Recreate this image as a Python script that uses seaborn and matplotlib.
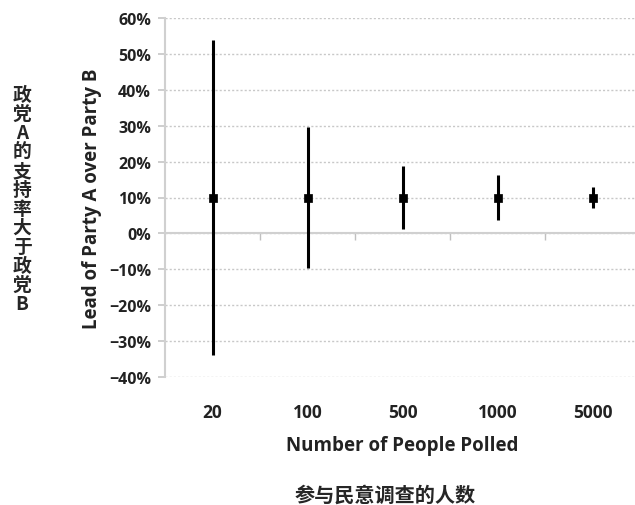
import numpy as np
import pandas as pd
import matplotlib
matplotlib.use('Agg')
import matplotlib.pyplot as plt
import seaborn as sns
from matplotlib.ticker import PercentFormatter

# poll sizes and the lead of party A (percent) with its margin of error
sizes = ['20', '100', '500', '1000', '5000']
lead = [10, 10, 10, 10, 10]
margin = [43.8, 19.6, 8.8, 6.2, 2.8]

sns.set_theme(style='white')
plt.rcParams['font.family'] = ['Open Sans', 'Noto Sans CJK SC', 'DejaVu Sans']

df = pd.DataFrame({'size': sizes, 'lead': lead, 'margin': margin})
df['pos'] = np.arange(len(df))

fig = plt.figure(figsize=(6.35, 5.06), dpi=100)
ax = fig.add_axes([165 / 635, 1 - 378 / 506, 475 / 635, 359 / 506])

grid_c = '#c8c8c8'
ax.grid(axis='y', color=grid_c, linestyle=(0, (1.5, 1.5)), linewidth=1)
ax.axhline(0, color='#d0d0d0', linewidth=1.5, zorder=1)

ax.vlines(df['pos'], df['lead'] - df['margin'], df['lead'] + df['margin'],
          color='black', linewidth=2.2, zorder=3)
sns.scatterplot(data=df, x='pos', y='lead', marker='s', s=40, color='black',
                edgecolor='black', ax=ax, zorder=4)

ax.set_xlim(-0.5, 4.5)
ax.set_ylim(-40, 60)
ax.set_yticks(np.arange(-40, 61, 10))
ax.yaxis.set_major_formatter(PercentFormatter(decimals=0))
ax.set_xticks(df['pos'])
ax.set_xticklabels(df['size'])

for s in ['top', 'right', 'bottom']:
    ax.spines[s].set_visible(False)
ax.spines['left'].set_color('#d0d0d0')
ax.spines['left'].set_linewidth(1.5)

ax.tick_params(axis='y', left=True, length=5, color=grid_c, pad=5,
               labelsize=11.5, labelcolor='#222222')
ax.tick_params(axis='x', bottom=False, length=0, pad=19, labelsize=12.5,
               labelcolor='#222222')
for lab in ax.get_xticklabels() + ax.get_yticklabels():
    lab.set_fontweight('bold')

# category boundary ticks on the zero line
sec = ax.secondary_xaxis(0.4)
sec.set_xticks([0.5, 1.5, 2.5, 3.5])
sec.set_xticklabels([])
sec.spines['bottom'].set_visible(False)
sec.tick_params(axis='x', length=5, color='#c0c0c0', width=1)

ax.set_xlabel('Number of People Polled', fontsize=13.5, fontweight='bold',
              color='#222222', labelpad=10)
ax.set_ylabel('Lead of Party A over Party B', fontsize=13.5, fontweight='bold',
              color='#222222', labelpad=5)

cjk = ['Noto Sans CJK SC', 'DejaVu Sans']
fig.text(385 / 635, 1 - 495 / 506, '参与民意调查的人数', ha='center', va='center',
         fontsize=14.5, fontweight='bold', family=cjk)
vert = '\n'.join('政党A的支持率大于政党B')
fig.text(22 / 635, 1 - 200 / 506, vert, ha='center', va='center',
         fontsize=13.5, fontweight='bold', linespacing=1.0, family=cjk)

fig.savefig('out.png', dpi=100)
